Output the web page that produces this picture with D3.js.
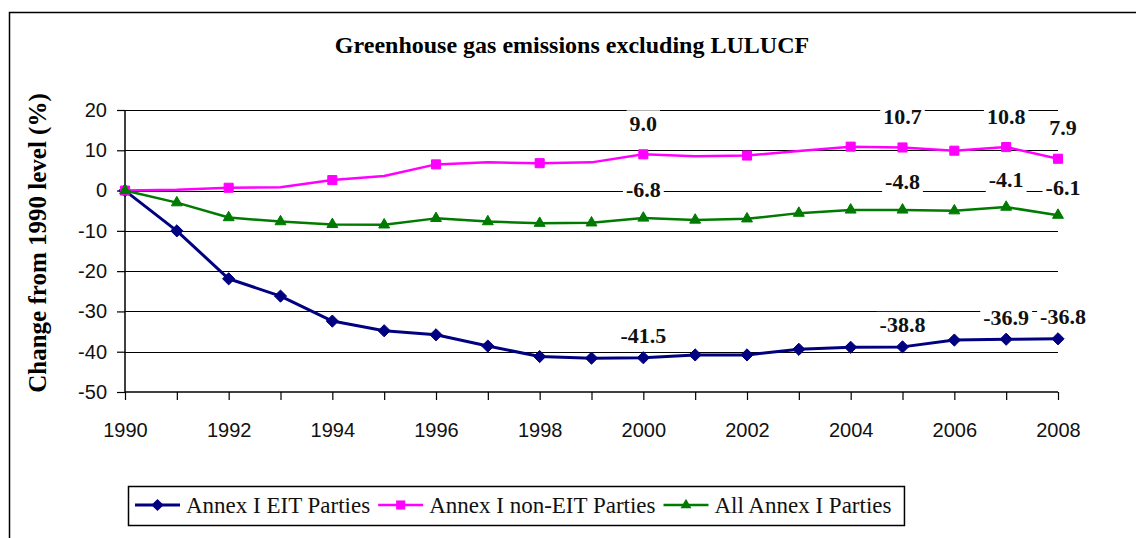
<!DOCTYPE html>
<html>
<head>
<meta charset="utf-8">
<script src="https://cdn.jsdelivr.net/npm/d3@7"></script>
<style>
  body { margin: 0; background: #fff; }
  svg { display: block; }
</style>
</head>
<body>
<div id="chart"></div>
<script>
const years = [1990, 1991, 1992, 1993, 1994, 1995, 1996, 1997, 1998, 1999,
               2000, 2001, 2002, 2003, 2004, 2005, 2006, 2007, 2008];

const eitValues = [0, -10.0, -21.9, -26.2, -32.4, -34.8, -35.8, -38.6, -41.2, -41.6,
                   -41.5, -40.8, -40.8, -39.4, -38.9, -38.8, -37.1, -36.9, -36.8];
const nonEitValues = [0, 0.2, 0.7, 0.8, 2.6, 3.6, 6.5, 7.0, 6.8, 7.0,
                      9.0, 8.5, 8.7, 9.8, 10.9, 10.7, 9.9, 10.8, 7.9];
const allValues = [0, -3.0, -6.7, -7.7, -8.4, -8.5, -6.9, -7.7, -8.1, -8.0,
                   -6.8, -7.3, -7.0, -5.6, -4.8, -4.8, -5.0, -4.1, -6.1];

// the non-EIT series only shows its markers on these years
const nonEitMarkerYears = [1990, 1992, 1994, 1996, 1998, 2000, 2002, 2004, 2005, 2006, 2007, 2008];
const labelYears = [2000, 2005, 2007, 2008];

const yTicks = [-50, -40, -30, -20, -10, 0, 10, 20];
const xLabelYears = [1990, 1992, 1994, 1996, 1998, 2000, 2002, 2004, 2006, 2008];

const seriesNames = ["Annex I EIT Parties", "Annex I non-EIT Parties", "All Annex I Parties"];

const title = "Greenhouse gas emissions excluding LULUCF";
const yTitle = "Change from 1990 level (%)";

const width = 1136;
const height = 538;
const serif = "'Liberation Serif', 'Times New Roman', serif";
const sans = "'Liberation Sans', Arial, sans-serif";

const series = [
  {name: seriesNames[0], values: eitValues, color: "#000080", symbol: d3.symbolDiamond2, size: 95, lw: 3, markerYears: years, labelDy: -22},
  {name: seriesNames[1], values: nonEitValues, color: "#ff00ff", symbol: d3.symbolSquare2, size: 105, lw: 2.5, markerYears: nonEitMarkerYears, labelDy: -31},
  {name: seriesNames[2], values: allValues, color: "#007a00", symbol: d3.symbolTriangle2, size: 85, lw: 2.5, markerYears: years, labelDy: -28}
];

const svg = d3.select("#chart")
  .append("svg")
  .attr("width", width)
  .attr("height", height);

svg.append("rect")
  .attr("width", width).attr("height", height)
  .attr("fill", "#fff");

// outer chart frame (cut off by the picture on the right and bottom)
svg.append("rect")
  .attr("x", 9.5).attr("y", 12.5)
  .attr("width", 1300).attr("height", 700)
  .attr("fill", "none")
  .attr("stroke", "#000")
  .attr("stroke-width", 1.5);

const x = d3.scaleLinear().domain([1990, 2008]).range([125, 1058]);
const y = d3.scaleLinear().domain([-50, 20]).range([392, 110]);

svg.append("text")
  .attr("x", 572).attr("y", 53)
  .attr("text-anchor", "middle")
  .attr("font-family", serif)
  .attr("font-weight", "bold")
  .attr("font-size", 24)
  .text(title);

svg.append("text")
  .attr("transform", `translate(46, ${(94 + 392) / 2}) rotate(-90)`)
  .attr("text-anchor", "middle")
  .attr("font-family", serif)
  .attr("font-weight", "bold")
  .attr("font-size", 25)
  .text(yTitle);

// gridlines
svg.append("g")
  .selectAll("line")
  .data(yTicks.filter(d => d !== -50))
  .join("line")
    .attr("x1", x(1990)).attr("x2", x(2008))
    .attr("y1", d => Math.round(y(d)) + 0.5)
    .attr("y2", d => Math.round(y(d)) + 0.5)
    .attr("stroke", "#000")
    .attr("stroke-width", 1);

const yAxis = svg.append("g")
  .attr("transform", `translate(${x(1990)},0)`)
  .call(d3.axisLeft(y).tickValues(yTicks).tickSize(8).tickPadding(10).tickFormat(d => String(d)));

const xAxis = svg.append("g")
  .attr("transform", `translate(0,${y(-50)})`)
  .call(d3.axisBottom(x).tickValues(years).tickSize(8).tickPadding(23)
    .tickFormat(d => xLabelYears.includes(d) ? String(d) : ""));

[yAxis, xAxis].forEach(a => {
  a.select(".domain").attr("stroke", "#000").attr("stroke-width", 1.5);
  a.selectAll(".tick line").attr("stroke", "#000").attr("stroke-width", 1.2);
  a.selectAll("text")
    .attr("font-family", sans)
    .attr("font-size", 20)
    .attr("fill", "#111");
});
xAxis.select(".domain").attr("d", `M${x(1990)},0H${x(2008)}`);
yAxis.select(".domain").attr("d", `M0,${y(20)}V${y(-50)}`);

const line = d3.line()
  .x(d => x(d.year))
  .y(d => y(d.value));

const seriesLayer = svg.append("g");

series.forEach(s => {
  const pts = years.map((yr, i) => ({year: yr, value: s.values[i]}));

  seriesLayer.append("path")
    .datum(pts)
    .attr("d", line)
    .attr("fill", "none")
    .attr("stroke", s.color)
    .attr("stroke-width", s.lw)
    .attr("stroke-linejoin", "round");

  seriesLayer.selectAll(null)
    .data(pts.filter(p => s.markerYears.includes(p.year)))
    .join("path")
      .attr("transform", d => `translate(${x(d.year)},${y(d.value)})`)
      .attr("d", d3.symbol().type(s.symbol).size(s.size)())
      .attr("fill", s.color)
      .attr("stroke", s.color)
      .attr("stroke-width", 1);
});

// data labels with white boxes on top of lines and grid
const labelLayer = svg.append("g");
series.forEach(s => {
  labelYears.forEach(yr => {
    const v = s.values[years.indexOf(yr)];
    const cx = x(yr) + (yr === 2008 ? 5 : 0);
    const cy = y(v) + s.labelDy;
    const g = labelLayer.append("g");
    const t = g.append("text")
      .attr("x", cx).attr("y", cy + 7.5)
      .attr("text-anchor", "middle")
      .attr("font-family", serif)
      .attr("font-weight", "bold")
      .attr("font-size", 22)
      .attr("fill", "#111")
      .text(v.toFixed(1));
    const w = t.node().getComputedTextLength();
    g.insert("rect", "text")
      .attr("x", cx - w / 2 - 3).attr("y", cy - 13)
      .attr("width", w + 6).attr("height", 26)
      .attr("fill", "#fff");
  });
});

// legend
const legend = svg.append("g");
const legendBox = legend.append("rect")
  .attr("y", 486.5).attr("height", 39)
  .attr("fill", "#fff")
  .attr("stroke", "#000")
  .attr("stroke-width", 1.5);

let cursor = 135;
series.forEach(s => {
  legend.append("line")
    .attr("x1", cursor).attr("x2", cursor + 45)
    .attr("y1", 505).attr("y2", 505)
    .attr("stroke", s.color)
    .attr("stroke-width", s.lw);
  legend.append("path")
    .attr("transform", `translate(${cursor + 22.5},505)`)
    .attr("d", d3.symbol().type(s.symbol).size(s.size)())
    .attr("fill", s.color);
  const t = legend.append("text")
    .attr("x", cursor + 51).attr("y", 513)
    .attr("font-family", serif)
    .attr("font-size", 23)
    .attr("fill", "#111")
    .text(s.name);
  cursor = cursor + 51 + t.node().getComputedTextLength() + 8;
});
legendBox.attr("x", 128.5).attr("width", cursor + 5 - 128.5);
</script>
</body>
</html>
